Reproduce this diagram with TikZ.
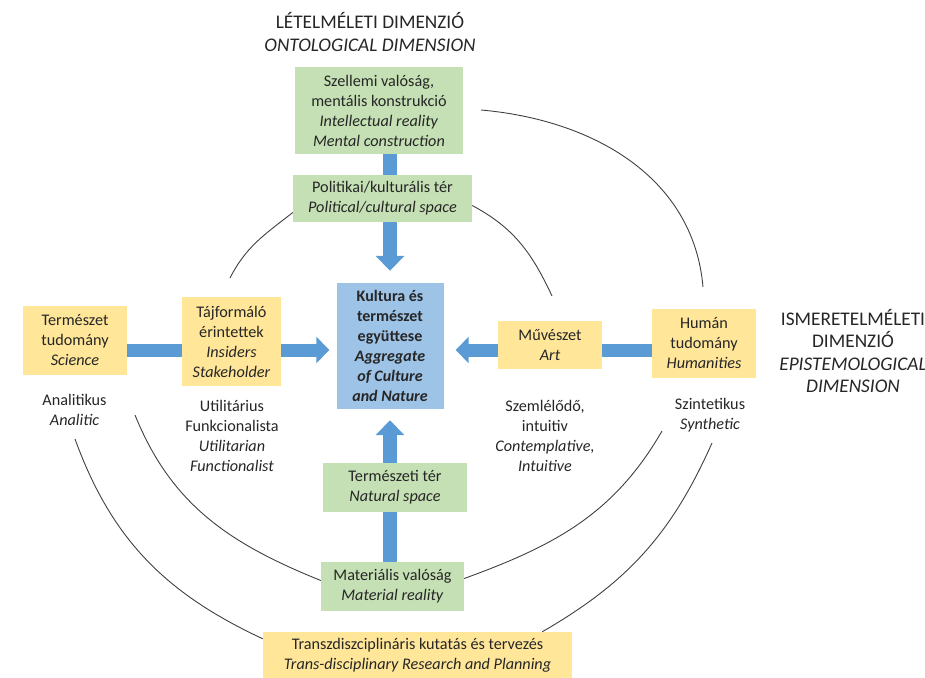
\documentclass[tikz,border=0pt]{standalone}
\usepackage{fontspec}
\setmainfont{Carlito}
\usetikzlibrary{arrows.meta,backgrounds}
\definecolor{boxgreen}{HTML}{C5E0B4}
\definecolor{boxyellow}{HTML}{FFE699}
\definecolor{boxblue}{HTML}{9DC3E6}
\definecolor{arrowblue}{HTML}{5B9BD5}
\definecolor{txt}{HTML}{262626}
\definecolor{arcgray}{HTML}{404040}

\begin{document}
\begin{tikzpicture}[x=1pt,y=1pt,
    every node/.style={text=txt, align=center, inner sep=0pt,
      font=\fontsize{16.2}{20}\selectfont},
    green/.style={fill=boxgreen},
    yellow/.style={fill=boxyellow},
    blue/.style={fill=boxblue, font=\fontsize{16}{20}\selectfont\bfseries},
    title/.style={font=\fontsize{19.3}{23.5}\selectfont},
    blk/.style={draw=arrowblue, line width=14pt, -{Triangle[length=15pt,width=28pt]}},
    blkh/.style={draw=arrowblue, line width=13pt, -{Triangle[length=13pt,width=26pt]}},
    arc/.style={draw=arcgray, line width=0.9pt}]
  \useasboundingbox (0,0) rectangle (925,-677);

  % boxes
  \node[green, minimum width=168, minimum height=87] (spirit) at (379,-110.5)
    {Szellemi valóság,\\mentális konstrukció\\\textit{Intellectual reality}\\\textit{Mental construction}};
  \node[green, minimum width=179, minimum height=47] (pol) at (382.5,-198.5)
    {Politikai/kulturális tér\\\textit{Political/cultural space}};
  \node[blue, minimum width=107, minimum height=126] (cen) at (390,-346)
    {Kultura és\\természet\\együttese\\\textit{Aggregate}\\\textit{of Culture}\\\textit{and Nature}};
  \node[yellow, minimum width=104, minimum height=69] (sci) at (75,-340.5)
    {Természet\\tudomány\\\textit{Science}};
  \node[yellow, minimum width=99, minimum height=89] (ins) at (231.5,-341.5)
    {Tájformáló\\érintettek\\\textit{Insiders}\\\textit{Stakeholder}};
  \node[yellow, minimum width=104, minimum height=48] (art) at (550,-345)
    {Művészet\\\textit{Art}};
  \node[yellow, minimum width=104, minimum height=69] (hum) at (704,-343.5)
    {Humán\\tudomány\\\textit{Humanities}};
  \node[green, minimum width=144, minimum height=49] (nat) at (395,-487.5)
    {Természeti tér\\\textit{Natural space}};
  \node[green, minimum width=143, minimum height=49] (mat) at (392.5,-586.5)
    {Materiális valóság\\\textit{Material reality}};
  \node[yellow, minimum width=309, minimum height=46] (tr) at (417.5,-655)
    {Transzdiszciplináris kutatás és tervezés\\\textit{Trans-disciplinary Research and Planning}};

  % labels
  \node[title] (onto) at (370,-32) {LÉTELMÉLETI DIMENZIÓ\\\textit{ONTOLOGICAL DIMENSION}};
  \node[title, font=\fontsize{19.3}{22.5}\selectfont] (epis) at (853,-351)
    {ISMERETELMÉLETI\\DIMENZIÓ\\\textit{EPISTEMOLOGICAL}\\\textit{DIMENSION}};
  \node (anal) at (74.5,-410) {Analitikus\\\textit{Analitic}};
  \node (util) at (232,-435.5) {Utilitárius\\Funkcionalista\\\textit{Utilitarian}\\\textit{Functionalist}};
  \node (cont) at (545,-435.5) {Szemlélődő,\\intuitiv\\\textit{Contemplative,}\\\textit{Intuitive}};
  \node (synt) at (710,-415) {Szintetikus\\\textit{Synthetic}};

  % free ends of the arcs
  \foreach \n/\x/\y in {a1/481/110, a2/703/287, a3/552/296, a4/230/278,
                        a5/135/415, a6/75/439, a7/662/431, a8/712/443}
    { \coordinate (\n) at (\x,-\y); }

  % arcs
  \draw[arc] (a1) to[out=-5, in=95] (a2);
  \draw[arc] ([yshift=-7pt]pol.east) to[out=-28, in=115] (a3);
  \draw[arc] ([yshift=-14pt]pol.west) to[out=218, in=63] (a4);
  \draw[arc] (a5) to[out=-68, in=158] ([yshift=6pt]mat.west);
  \draw[arc] (a6) to[out=-70, in=155] ([yshift=-7pt]tr.north west);
  \draw[arc] ([yshift=8pt]mat.east) to[out=20, in=240] (a7);
  \draw[arc] ([xshift=-30pt]tr.north east) to[out=30, in=246] (a8);

  % arrows
  \begin{scope}[on background layer]
    \draw[blk] (spirit.south -| cen.north) -- ([yshift=12pt]cen.north);
    \draw[blk] (mat.north -| cen.south) -- ([yshift=-11pt]cen.south);
    \draw[blkh, transform canvas={yshift=-4pt}] (sci.east |- cen.west) -- ([xshift=-7pt]cen.west);
    \draw[blkh, transform canvas={yshift=-4pt}] (hum.west |- cen.east) -- ([xshift=12pt]cen.east);
  \end{scope}
\end{tikzpicture}
\end{document}
